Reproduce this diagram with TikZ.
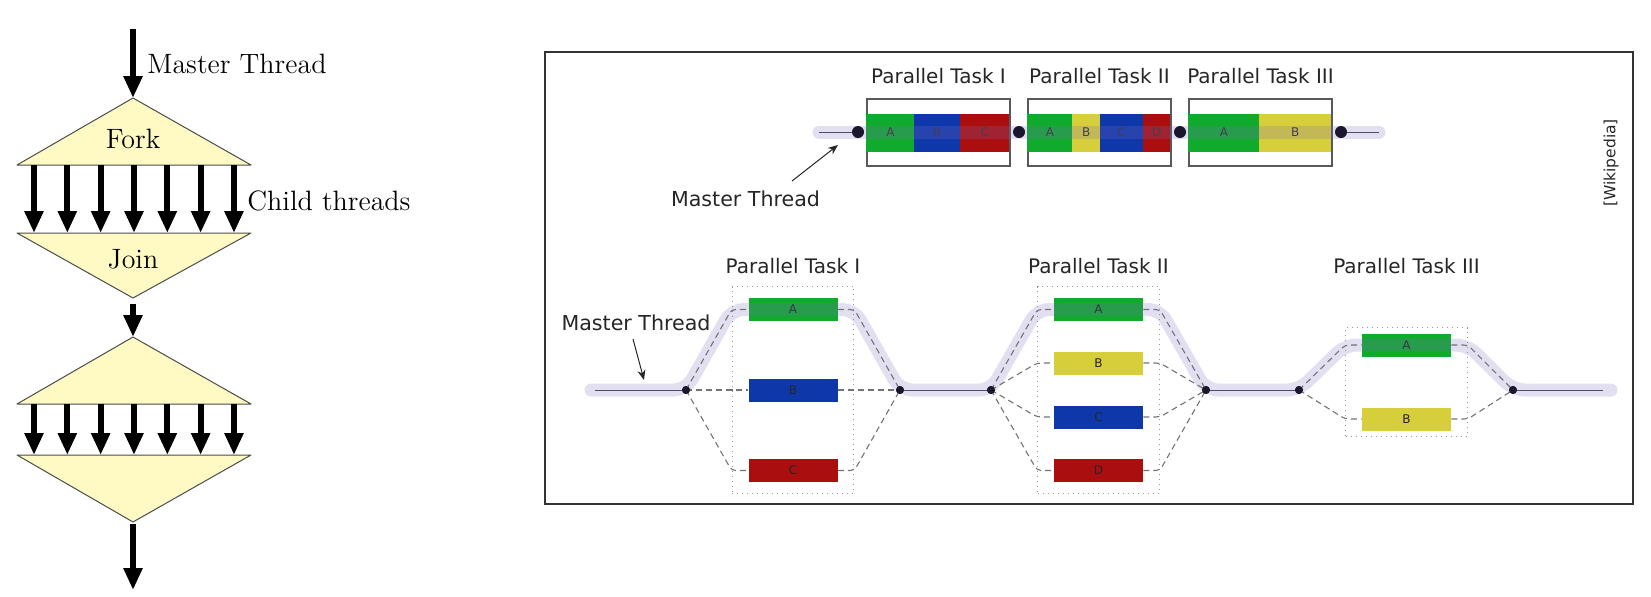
\documentclass[tikz,border=0pt]{standalone}
\usepackage{fontspec}
\newfontfamily\dejavu{DejaVu Sans}
\usetikzlibrary{arrows.meta, positioning, fit, calc}

\definecolor{forkfill}{RGB}{255,249,196}
\definecolor{taskgreen}{RGB}{16,170,44}
\definecolor{taskblue}{RGB}{14,56,170}
\definecolor{taskred}{RGB}{170,14,14}
\definecolor{taskyellow}{RGB}{214,206,58}
\definecolor{bandcol}{RGB}{125,110,190}
\definecolor{threadcol}{RGB}{80,75,100}
\definecolor{dotcol}{RGB}{25,22,45}

\begin{document}
\begin{tikzpicture}[
        x = 0.5pt, y = -0.5pt,
        node distance = 0pt,
        forkjoin/.style = {draw = black!70, fill = forkfill, line width = 0.5pt, line join = round},
        fatarrow/.style = {line width = 3pt, -{Triangle[width = 9pt, length = 11pt]}},
        serifbig/.style = {font = \fontsize{14}{17}\selectfont, inner sep = 0pt},
        tasklabel/.style = {font = \dejavu\fontsize{10}{12}\selectfont, text = black!85, inner sep = 0pt},
        masterlabel/.style = {tasklabel, font = \dejavu\fontsize{10.3}{12}\selectfont},
        taskframe/.style = {
            draw = black!65, line width = 0.65pt, inner sep = 0pt,
            minimum width = 71.5pt, minimum height = 33.5pt
        },
        seg/.style = {
            minimum height = 19pt, inner sep = 0pt, outer sep = 0pt,
            font = \dejavu\fontsize{6}{7}\selectfont, text = black!80
        },
        taskbox/.style = {
            minimum width = 44.5pt, minimum height = 11.5pt, inner sep = 0pt,
            font = \dejavu\fontsize{6}{7}\selectfont, text = black!85
        },
        taskgroup/.style = {draw = black!40, line width = 0.5pt, dash pattern = on 0.5pt off 2pt, inner xsep = 8pt},
        band/.style = {
            draw = bandcol, draw opacity = 0.22, line width = 6.5pt,
            line cap = round, line join = round, rounded corners = 6pt
        },
        thread/.style = {draw = threadcol, line width = 0.5pt},
        branch/.style = {draw = black!55, line width = 0.55pt, dash pattern = on 3pt off 2pt, rounded corners = 2pt},
        bigdot/.style = {circle, fill = dotcol, minimum size = 6pt, inner sep = 0pt},
        smalldot/.style = {circle, fill = dotcol, minimum size = 4pt, inner sep = 0pt},
        pointer/.style = {draw = black!85, line width = 0.5pt, -{Stealth[length = 5pt, width = 4pt]}}
    ]
    \useasboundingbox (0,0) rectangle (1651,596);

    % ---- left: fork / join scheme
    \coordinate (mastertop) at (133,29);
    \coordinate (fork1top)  at (133,98);
    \coordinate (fork1l)    at (17,165);
    \coordinate (fork1r)    at (251,165);
    \coordinate (join1l)    at (17,233);
    \coordinate (join1r)    at (251,233);
    \coordinate (join1bot)  at (133,298);
    \coordinate (fork2top)  at (133,337);
    \coordinate (fork2l)    at (17,404);
    \coordinate (fork2r)    at (251,404);
    \coordinate (join2l)    at (17,455);
    \coordinate (join2r)    at (251,455);
    \coordinate (join2bot)  at (133,522);
    \coordinate (masterbot) at (133,590);

    \filldraw[forkjoin] (fork1top) -- (fork1r) -- (fork1l) -- cycle;
    \filldraw[forkjoin] (join1l) -- (join1r) -- (join1bot) -- cycle;
    \filldraw[forkjoin] (fork2top) -- (fork2r) -- (fork2l) -- cycle;
    \filldraw[forkjoin] (join2l) -- (join2r) -- (join2bot) -- cycle;

    \node[serifbig, anchor = base west] (mastertxt) at (147,73)  {Master Thread};
    \node[serifbig, anchor = base west] (childtxt)  at (247,210) {Child threads};
    \node[serifbig, anchor = base]      (forktxt)   at (133,148) {Fork};
    \node[serifbig, anchor = base]      (jointxt)   at (133,268) {Join};

    \draw[fatarrow] (mastertop) -- (fork1top);
    \draw[fatarrow] ([yshift = -3pt]join1bot) -- (fork2top);
    \draw[fatarrow] ([yshift = -1pt]join2bot) -- (masterbot);
    \foreach \i in {0,...,6} {
        \draw[fatarrow] ($(fork1l)!{(17+33.33*\i)/234}!(fork1r)$) -- ($(join1l)!{(17+33.33*\i)/234}!(join1r)$);
        \draw[fatarrow] ($(fork2l)!{(17+33.33*\i)/234}!(fork2r)$) -- ($(join2l)!{(17+33.33*\i)/234}!(join2r)$);
    }

    % ---- right: frame
    \draw[draw = black!80, line width = 0.6pt] (545,52) rectangle (1633,504);
    \node[masterlabel, rotate = 90] (source) at (1611,163) {\fontsize{7.75}{9}\selectfont [Wikipedia]};

    % ---- top: sequential tasks
    \node[taskframe] (top1) at (938.5,132.5)  {};
    \node[taskframe] (top2) at (1099.5,132.5) {};
    \node[taskframe] (top3) at (1260.5,132.5) {};

    \node[seg, fill = taskgreen,  minimum width = 24pt,   right = 0pt of top1.west] (top1a) {A};
    \node[seg, fill = taskblue,   minimum width = 23pt,   right = 0pt of top1a]     (top1b) {B};
    \node[seg, fill = taskred,    minimum width = 24.5pt, right = 0pt of top1b]     (top1c) {C};

    \node[seg, fill = taskgreen,  minimum width = 22.5pt, right = 0pt of top2.west] (top2a) {A};
    \node[seg, fill = taskyellow, minimum width = 14pt,   right = 0pt of top2a]     (top2b) {B};
    \node[seg, fill = taskblue,   minimum width = 21.5pt, right = 0pt of top2b]     (top2c) {C};
    \node[seg, fill = taskred,    minimum width = 13.5pt, right = 0pt of top2c]     (top2d) {D};

    \node[seg, fill = taskgreen,  minimum width = 35.5pt, right = 0pt of top3.west] (top3a) {A};
    \node[seg, fill = taskyellow, minimum width = 36pt,   right = 0pt of top3a]     (top3b) {B};

    \node[tasklabel, above = 7pt of top1] (toplabel1) {Parallel Task I};
    \node[tasklabel, above = 7pt of top2] (toplabel2) {Parallel Task II};
    \node[tasklabel, above = 7pt of top3] (toplabel3) {Parallel Task III};

    \coordinate (topstart) at (819,132);
    \coordinate (topend)   at (1379,132);
    \draw[band] (topstart) -- (topend);

    \node[bigdot] (topdot1) at (858,132)  {};
    \node[bigdot] (topdot2) at (1019,132) {};
    \node[bigdot] (topdot3) at (1180,132) {};
    \node[bigdot] (topdot4) at (1341,132) {};
    \draw[thread] (topstart) -- (topdot1);
    \draw[thread] (topdot4) -- (topend);

    \node[masterlabel, anchor = base] (topmaster) at (745.5,206) {Master Thread};
    \coordinate (topmasterfrom) at (792,181);
    \coordinate (topmasterto)   at (838,145);
    \draw[pointer] (topmasterfrom) -- (topmasterto);

    % ---- bottom: parallel tasks
    \node[taskbox, fill = taskgreen]  (t1a) at (793,309.5) {A};
    \node[taskbox, fill = taskblue]   (t1b) at (793,390)   {B};
    \node[taskbox, fill = taskred]    (t1c) at (793,470.5) {C};

    \node[taskbox, fill = taskgreen]  (t2a) at (1098.5,309.5) {A};
    \node[taskbox, fill = taskyellow] (t2b) at (1098.5,363)   {B};
    \node[taskbox, fill = taskblue]   (t2c) at (1098.5,417)   {C};
    \node[taskbox, fill = taskred]    (t2d) at (1098.5,470.5) {D};

    \node[taskbox, fill = taskgreen]  (t3a) at (1406.5,345) {A};
    \node[taskbox, fill = taskyellow] (t3b) at (1406.5,419) {B};

    \node[taskgroup, inner ysep = 5.5pt,  fit = (t1a)(t1c)] (g1) {};
    \node[taskgroup, inner ysep = 5.5pt,  fit = (t2a)(t2d)] (g2) {};
    \node[taskgroup, inner ysep = 2.75pt, fit = (t3a)(t3b)] (g3) {};

    \node[tasklabel, above = 6pt of g1]    (p1) {Parallel Task I};
    \node[tasklabel, above = 6pt of g2]    (p2) {Parallel Task II};
    \node[tasklabel, above = 26.5pt of g3] (p3) {Parallel Task III};

    \node[smalldot] (f1) at (686,390)  {};
    \node[smalldot] (j1) at (900,390)  {};
    \node[smalldot] (f2) at (991,390)  {};
    \node[smalldot] (j2) at (1206,390) {};
    \node[smalldot] (f3) at (1299,390) {};
    \node[smalldot] (j3) at (1513,390) {};

    \coordinate (botstart) at (595,390);
    \coordinate (botend)   at (1603,390);
    \draw[band] ([xshift = -2pt]botstart) -- (f1.center)
        -- (g1.west |- t1a) -- (g1.east |- t1a) -- (j1.center) -- (f2.center)
        -- (g2.west |- t2a) -- (g2.east |- t2a) -- (j2.center) -- (f3.center)
        -- (g3.west |- t3a) -- (g3.east |- t3a) -- (j3.center) -- ([xshift = 4pt]botend);

    \foreach \t/\rows in {1/{a,b,c}, 2/{a,b,c,d}, 3/{a,b}} {
        \foreach \r in \rows {
            \draw[branch] (f\t.center) -- (g\t.west |- t\t\r) -- (t\t\r.west);
            \draw[branch] (t\t\r.east) -- (g\t.east |- t\t\r) -- (j\t.center);
        }
    }

    \draw[thread] (botstart) -- (f1);
    \draw[thread] (j1) -- (f2);
    \draw[thread] (j2) -- (f3);
    \draw[thread] (j3) -- (botend);
    \foreach \d in {f1, j1, f2, j2, f3, j3}
        \node[smalldot] at (\d) {};

    \node[masterlabel, anchor = base] (botmaster) at (636,330) {Master Thread};
    \coordinate (botmasterfrom) at (633,339);
    \coordinate (botmasterto)   at (644,380);
    \draw[pointer] (botmasterfrom) -- (botmasterto);
\end{tikzpicture}
\end{document}
